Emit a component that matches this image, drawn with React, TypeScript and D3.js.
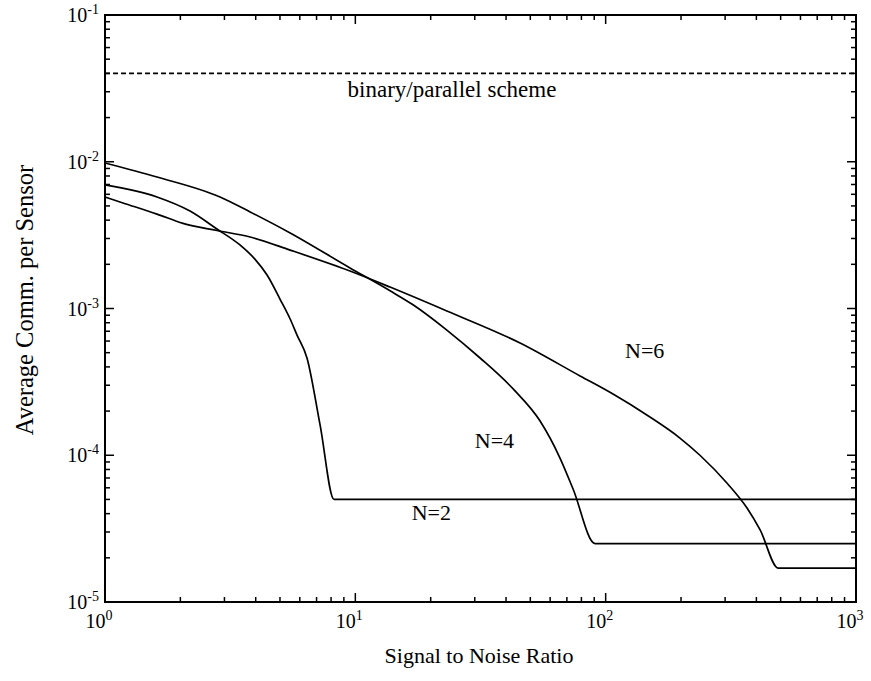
import React from "react";
import * as d3 from "d3";

const xTickExps = [0, 1, 2, 3];
const yTickExps = [-1, -2, -3, -4, -5];

const n2Snr = [1, 1.613, 2.186, 2.8, 3.46, 3.97, 4.44, 5.0, 5.49, 5.85, 6.41, 7.23, 8.22, 1000];
const n2Comm = [6.95e-3, 5.75e-3, 4.61e-3, 3.48e-3, 2.71e-3, 2.17e-3, 1.69e-3, 1.16e-3, 8.48e-4, 6.59e-4, 4.6e-4, 1.61e-4, 5e-5, 5e-5];

const n4Snr = [1, 1.613, 2.88, 3.8, 5.49, 9.52, 13.76, 17.0, 23.2, 31.5, 42.7, 54.7, 65.7, 74.1, 90.7, 1000];
const n4Comm = [9.8e-3, 7.87e-3, 5.75e-3, 4.55e-3, 3.27e-3, 1.89e-3, 1.32e-3, 1.06e-3, 7.13e-4, 4.6e-4, 2.83e-4, 1.71e-4, 9.57e-5, 5.89e-5, 2.5e-5, 2.5e-5];

const n6Snr = [1, 1.18, 1.613, 2.05, 2.8, 3.8, 5.49, 9.52, 13.76, 23.2, 45.5, 79, 107, 146, 198, 238, 305, 367, 414, 489, 1000];
const n6Comm = [5.75e-3, 5.24e-3, 4.4e-3, 3.8e-3, 3.4e-3, 3.07e-3, 2.5e-3, 1.8e-3, 1.4e-3, 9.62e-4, 5.82e-4, 3.47e-4, 2.61e-4, 1.88e-4, 1.31e-4, 1.0e-4, 6.47e-5, 4.37e-5, 3.1e-5, 1.7e-5, 1.7e-5];

const binaryLevel = 0.04;

const seriesLabels = [
  { text: "N=2", snr: 16.8, comm: 3.62e-5 },
  { text: "N=4", snr: 30, comm: 1.12e-4 },
  { text: "N=6", snr: 119.5, comm: 4.6e-4 },
];

const W = 871;
const H = 681;
const L = 105, R = 856, T = 15, B = 602;
const FONT = "Liberation Serif, serif";

export default function App() {
  const x = d3.scaleLog().domain([1, 1000]).range([L, R]);
  const y = d3.scaleLog().domain([1e-5, 1e-1]).range([B, T]);
  const line = d3
    .line<[number, number]>()
    .x((d) => x(d[0]))
    .y((d) => y(d[1]))
    .curve(d3.curveMonotoneX);

  const series = [
    n2Snr.map((s, i) => [s, n2Comm[i]] as [number, number]),
    n4Snr.map((s, i) => [s, n4Comm[i]] as [number, number]),
    n6Snr.map((s, i) => [s, n6Comm[i]] as [number, number]),
  ];

  const xt = x.ticks();
  const yt = y.ticks();
  const isMajor = (v: number) => Math.abs(Math.log10(v) - Math.round(Math.log10(v))) < 1e-9;
  const MAJ = 9, MIN = 5;

  return (
    <svg
      width={W}
      height={H}
      style={{ position: "absolute", left: 0, top: 0, background: "#fff", fontFamily: FONT }}
    >
      <rect x={0} y={0} width={W} height={H} fill="#fff" />
      <g stroke="#000" strokeWidth={1.5}>
        {xt.map((v, i) => {
          const len = isMajor(v) ? MAJ : MIN;
          const px = x(v);
          return (
            <g key={"xt" + i}>
              <line x1={px} x2={px} y1={B} y2={B - len} />
              <line x1={px} x2={px} y1={T} y2={T + len} />
            </g>
          );
        })}
        {yt.map((v, i) => {
          const len = isMajor(v) ? MAJ : MIN;
          const py = y(v);
          return (
            <g key={"yt" + i}>
              <line x1={L} x2={L + len} y1={py} y2={py} />
              <line x1={R} x2={R - len} y1={py} y2={py} />
            </g>
          );
        })}
      </g>
      <rect x={L} y={T} width={R - L} height={B - T} fill="none" stroke="#000" strokeWidth={2} />

      <line
        x1={L}
        x2={R}
        y1={y(binaryLevel)}
        y2={y(binaryLevel)}
        stroke="#000"
        strokeWidth={1.7}
        strokeDasharray="5,3"
      />
      <text x={452} y={97} fontSize={23} textAnchor="middle" fill="#000">
        binary/parallel scheme
      </text>

      {series.map((s, i) => (
        <path key={"s" + i} d={line(s) || ""} fill="none" stroke="#000" strokeWidth={1.7} />
      ))}

      {seriesLabels.map((l, i) => (
        <text key={"l" + i} x={x(l.snr)} y={y(l.comm)} fontSize={22} fill="#000">
          {l.text}
        </text>
      ))}

      {xTickExps.map((e) => (
        <text key={"xl" + e} x={x(Math.pow(10, e)) - 6} y={628} fontSize={20} textAnchor="middle" fill="#000">
          10
          <tspan dy={-8} fontSize={14}>
            {String(e)}
          </tspan>
        </text>
      ))}
      {yTickExps.map((e) => (
        <text key={"yl" + e} x={99} y={y(Math.pow(10, e)) + 7} fontSize={20} textAnchor="end" fill="#000">
          10
          <tspan dy={-8} fontSize={14}>
            {String(e)}
          </tspan>
        </text>
      ))}

      <text x={479} y={663} fontSize={22} textAnchor="middle" fill="#000">
        Signal to Noise Ratio
      </text>
      <text
        transform={`translate(33,300) rotate(-90)`}
        fontSize={24.5}
        textAnchor="middle"
        fill="#000"
      >
        Average Comm. per Sensor
      </text>
    </svg>
  );
}
